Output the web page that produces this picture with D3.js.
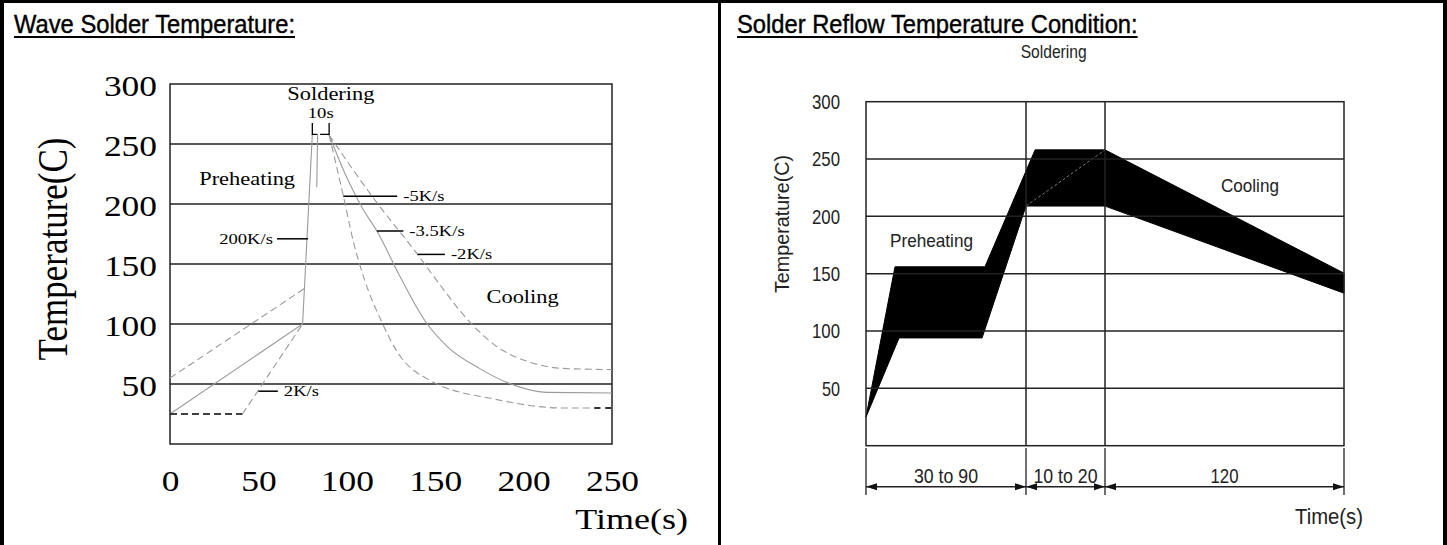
<!DOCTYPE html>
<html>
<head>
<meta charset="utf-8">
<script src="https://cdn.jsdelivr.net/npm/d3@7"></script>
<style>
  body { margin: 0; background: #fff; }
</style>
</head>
<body>
<div id="chart"></div>
<script>
//Panel titles
var titles = ["Wave Solder Temperature:", "Solder Reflow Temperature Condition:"];

//Wave solder chart : time (s) / temperature (C)
var waveTempTicks = [50, 100, 150, 200, 250, 300];
var waveTimeTicks = [0, 50, 100, 150, 200, 250];
var waveRise = [[0, 25], [75, 100], [80.5, 258]];
var waveRiseHigh = [[0, 55], [76.5, 130]];
var waveHoldLow = [[0, 25], [41, 25]];
var waveRiseLow = [[41, 25], [75, 100]];
var waveDip = [[83.5, 258], [83, 214]];
var coolFast = [[90, 257.5], [98, 207], [104, 167], [110, 137], [120, 101], [128, 78], [147, 53], [185, 37], [222, 30], [250, 30]];
var coolMid = [[90, 257.5], [100, 222], [109, 196], [117, 177.5], [131, 137], [145, 101], [157, 81], [175, 63], [191, 51], [213, 43], [250, 42.5]];
var coolSlow = [[90, 257.5], [115, 205], [140, 158], [149, 140], [170, 101], [185, 81], [204, 68], [222, 63], [250, 62]];
var coolTail = [[240, 30], [250, 30]];
var solderWindow = [80.5, 90];
var rateLabels = ["-5K/s", "-3.5K/s", "-2K/s", "200K/s", "2K/s"];
var rateLeaders = [[98, 128.5, 206.5], [117, 132, 177.5], [140, 155.5, 158], [60.5, 78, 171], [50, 61, 44]]; // t start, t end, temp
var wavePhases = ["Soldering", "Preheating", "Cooling"];
var wavePhasePos = [[91, 286.5], [16.5, 216], [179, 117.5]];

//Reflow chart : nominal max phase durations 90 + 20 + 120 s
var reflowTempTicks = [50, 100, 150, 200, 250, 300];
var phaseEdges = [0, 90, 110, 230];
var phaseLabels = ["30 to 90", "10 to 20", "120"];
var reflowUpper = [[0, 25], [16.3, 156], [66.9, 156], [92.3, 258], [110, 258], [230, 150.5]];
var reflowLower = [[0, 25], [18.6, 94], [65.3, 94], [90, 209], [110, 209], [230, 133]];
var reflowInner = [[90, 209], [110, 258]];
var reflowPhases = ["Soldering", "Preheating", "Cooling"];
var reflowPhasePos = [[97, 338], [13.5, 173], [168.2, 221]];

var serif = "'Liberation Serif', 'Times New Roman', serif";
var sans = "'Liberation Sans', Arial, sans-serif";

//stretch a text horizontally by k
function stretch(sel, k) {
  sel.each(function() {
    var w = this.getComputedTextLength();
    d3.select(this).attr("textLength", w * k).attr("lengthAdjust", "spacingAndGlyphs");
  });
}
function fitWidth(sel, w) {
  sel.attr("textLength", w).attr("lengthAdjust", "spacingAndGlyphs");
}

var svg = d3.select("#chart").append("svg")
  .attr("width", 1447).attr("height", 545);

//Table borders
svg.append("line").attr("x1", 2).attr("x2", 2).attr("y1", 0).attr("y2", 545).attr("stroke", "#000").attr("stroke-width", 4);
svg.append("line").attr("x1", 0).attr("x2", 1447).attr("y1", 1.5).attr("y2", 1.5).attr("stroke", "#000").attr("stroke-width", 3);
svg.append("line").attr("x1", 719.5).attr("x2", 719.5).attr("y1", 0).attr("y2", 545).attr("stroke", "#000").attr("stroke-width", 3);
svg.append("line").attr("x1", 1445).attr("x2", 1445).attr("y1", 0).attr("y2", 545).attr("stroke", "#000").attr("stroke-width", 4);

//Titles with underline
var leftTitle = svg.append("text").attr("x", 14).attr("y", 33)
  .attr("font-family", sans).attr("font-size", 25).attr("stroke", "#000").attr("stroke-width", 0.4)
  .text(titles[0]);
var k = 281 / leftTitle.node().getComputedTextLength();
stretch(leftTitle, k);
var rightTitle = svg.append("text").attr("x", 737).attr("y", 33)
  .attr("font-family", sans).attr("font-size", 25).attr("stroke", "#000").attr("stroke-width", 0.4)
  .text(titles[1]);
stretch(rightTitle, k);
[leftTitle, rightTitle].forEach(function(t) {
  var x0 = +t.attr("x"), w = +t.attr("textLength");
  svg.append("line").attr("x1", x0).attr("x2", x0 + w).attr("y1", 37).attr("y2", 37)
    .attr("stroke", "#000").attr("stroke-width", 2);
});

// ================= Wave solder chart =================
var xW = d3.scaleLinear().domain([0, 250]).range([170, 612]);
var yW = d3.scaleLinear().domain([0, 300]).range([444, 84]);
var lineW = d3.line().x(function(d) { return xW(d[0]); }).y(function(d) { return yW(d[1]); });
var curveW = d3.line().curve(d3.curveMonotoneX).x(function(d) { return xW(d[0]); }).y(function(d) { return yW(d[1]); });

var gW = svg.append("g");

//Gridlines
gW.selectAll(".gridW").data(waveTempTicks.filter(function(v) { return v < 300; }))
  .enter().append("line")
  .attr("x1", xW(0)).attr("x2", xW(250))
  .attr("y1", function(d) { return yW(d); }).attr("y2", function(d) { return yW(d); })
  .attr("stroke", "#222").attr("stroke-width", 1.5);
gW.append("rect")
  .attr("x", xW(0)).attr("y", yW(300)).attr("width", xW(250) - xW(0)).attr("height", yW(0) - yW(300))
  .attr("fill", "none").attr("stroke", "#222").attr("stroke-width", 1.5);

//Curves
var gray = "#9a9a9a";
gW.append("path").attr("d", lineW(waveRise)).attr("fill", "none").attr("stroke", gray).attr("stroke-width", 1.1);
gW.append("path").attr("d", lineW(waveRiseHigh)).attr("fill", "none").attr("stroke", gray).attr("stroke-width", 1.1).attr("stroke-dasharray", "7,4");
gW.append("path").attr("d", lineW(waveHoldLow)).attr("fill", "none").attr("stroke", "#000").attr("stroke-width", 1.3).attr("stroke-dasharray", "7,4");
gW.append("path").attr("d", lineW(waveRiseLow)).attr("fill", "none").attr("stroke", gray).attr("stroke-width", 1.1).attr("stroke-dasharray", "7,4");
gW.append("path").attr("d", lineW(waveDip)).attr("fill", "none").attr("stroke", gray).attr("stroke-width", 1.1);
gW.append("path").attr("d", curveW(coolFast)).attr("fill", "none").attr("stroke", gray).attr("stroke-width", 1.1).attr("stroke-dasharray", "7,4");
gW.append("path").attr("d", curveW(coolMid)).attr("fill", "none").attr("stroke", gray).attr("stroke-width", 1.1);
gW.append("path").attr("d", curveW(coolSlow)).attr("fill", "none").attr("stroke", gray).attr("stroke-width", 1.1).attr("stroke-dasharray", "7,4");
gW.append("path").attr("d", lineW(coolTail)).attr("fill", "none").attr("stroke", "#000").attr("stroke-width", 1.3).attr("stroke-dasharray", "6,5");

//10s bracket
var bTop = yW(267.5), bBot = yW(258);
var bl = xW(solderWindow[0]), br = xW(solderWindow[1]);
gW.append("path")
  .attr("d", "M" + bl + "," + bTop + "V" + bBot + "H" + (bl + 5) + "M" + (br - 9) + "," + bBot + "H" + br + "V" + bTop)
  .attr("fill", "none").attr("stroke", "#000").attr("stroke-width", 1.3);
var tenS = gW.append("text").attr("x", (bl + br) / 2).attr("y", yW(271.7))
  .attr("text-anchor", "middle").attr("font-family", serif).attr("font-size", 15.5).text("10s");
stretch(tenS, 1.2);

//Rate leaders and labels
rateLeaders.forEach(function(r, i) {
  gW.append("line").attr("x1", xW(r[0])).attr("x2", xW(r[1]))
    .attr("y1", yW(r[2])).attr("y2", yW(r[2])).attr("stroke", "#000").attr("stroke-width", 1.5);
  var t = gW.append("text")
    .attr("x", i === 3 ? xW(r[0]) - 4 : xW(r[1]) + 6)
    .attr("y", yW(r[2]) + 5)
    .attr("text-anchor", i === 3 ? "end" : "start")
    .attr("font-family", serif).attr("font-size", 15.5).text(rateLabels[i]);
  stretch(t, 1.2);
});

//Phase labels
wavePhases.forEach(function(p, i) {
  var t = gW.append("text").attr("x", xW(wavePhasePos[i][0])).attr("y", yW(wavePhasePos[i][1]))
    .attr("text-anchor", i === 0 ? "middle" : "start")
    .attr("font-family", serif).attr("font-size", 18.7).text(p);
  stretch(t, 1.2);
});

//Axes
var axW = gW.append("g").attr("transform", "translate(" + xW(0) + ",0)")
  .call(d3.axisLeft(yW).tickValues(waveTempTicks).tickSize(0).tickPadding(13));
axW.select(".domain").remove();
axW.selectAll("text").attr("font-family", serif).attr("font-size", 30).attr("fill", "#000").attr("dy", "0.38em");
stretch(axW.selectAll("text"), 1.18);

var axWx = gW.append("g").attr("transform", "translate(0," + yW(0) + ")")
  .call(d3.axisBottom(xW).tickValues(waveTimeTicks).tickSize(0));
axWx.select(".domain").remove();
axWx.selectAll("text").attr("font-family", serif).attr("font-size", 30).attr("fill", "#000").attr("y", 47).attr("dy", 0);
stretch(axWx.selectAll("text"), 1.18);

gW.append("text").attr("transform", "translate(67,249) scale(1.2,1) rotate(-90)")
  .attr("text-anchor", "middle").attr("font-family", serif).attr("font-size", 35).text("Temperature(C)");
var timeW = gW.append("text").attr("x", 688).attr("y", 529).attr("text-anchor", "end")
  .attr("font-family", serif).attr("font-size", 30).text("Time(s)");
stretch(timeW, 1.2);

// ================= Reflow chart =================
var xR = d3.scaleLinear().domain(phaseEdges).range([866, 1026, 1105, 1344]);
var yR = d3.scaleLinear().domain([0, 300]).range([445.7, 101.7]);
var lineR = d3.line().x(function(d) { return xR(d[0]); }).y(function(d) { return yR(d[1]); });

var gR = svg.append("g");

//Profile band
gR.append("path")
  .attr("d", lineR(reflowUpper.concat(reflowLower.slice().reverse())) + "Z")
  .attr("fill", "#000").attr("stroke", "#000").attr("stroke-width", 1);
gR.append("path").attr("d", lineR(reflowInner)).attr("fill", "none")
  .attr("stroke", "#777").attr("stroke-width", 1).attr("stroke-dasharray", "3,2");

//Grid
gR.selectAll(".gridR").data(reflowTempTicks.filter(function(v) { return v < 300; }))
  .enter().append("line")
  .attr("x1", xR(0)).attr("x2", xR(230))
  .attr("y1", function(d) { return yR(d); }).attr("y2", function(d) { return yR(d); })
  .attr("stroke", "#222").attr("stroke-width", 1.5);
gR.selectAll(".vgridR").data(phaseEdges.slice(1, 3))
  .enter().append("line")
  .attr("x1", function(d) { return xR(d); }).attr("x2", function(d) { return xR(d); })
  .attr("y1", yR(300)).attr("y2", yR(0))
  .attr("stroke", "#222").attr("stroke-width", 1.5);
gR.append("rect")
  .attr("x", xR(0)).attr("y", yR(300)).attr("width", xR(230) - xR(0)).attr("height", yR(0) - yR(300))
  .attr("fill", "none").attr("stroke", "#222").attr("stroke-width", 1.5);

//Axis
var axR = gR.append("g").attr("transform", "translate(" + xR(0) + ",0)")
  .call(d3.axisLeft(yR).tickValues(reflowTempTicks).tickSize(0).tickPadding(26));
axR.select(".domain").remove();
axR.selectAll("text").attr("font-family", sans).attr("font-size", 21).attr("fill", "#222").attr("dy", "0.33em")
  .each(function(d) { fitWidth(d3.select(this), d >= 100 ? 28 : 18); });

var yTitleR = gR.append("text").attr("transform", "translate(789,224) rotate(-90)")
  .attr("text-anchor", "middle").attr("font-family", sans).attr("font-size", 20).attr("fill", "#222")
  .text("Temperature(C)");
fitWidth(yTitleR, 138);

//Phase labels
var phaseWidths = [66, 83, 58];
reflowPhases.forEach(function(p, i) {
  var t = gR.append("text").attr("x", xR(reflowPhasePos[i][0])).attr("y", yR(reflowPhasePos[i][1]))
    .attr("text-anchor", i === 0 ? "middle" : "start")
    .attr("font-family", sans).attr("font-size", 19).attr("fill", "#222").text(p);
  fitWidth(t, phaseWidths[i]);
});

//Duration dimension lines
var dimY = 486.7;
gR.selectAll(".dimTick").data(phaseEdges)
  .enter().append("line")
  .attr("x1", function(d) { return xR(d); }).attr("x2", function(d) { return xR(d); })
  .attr("y1", 448).attr("y2", 495).attr("stroke", "#222").attr("stroke-width", 1.3);
gR.append("line").attr("x1", xR(0)).attr("x2", xR(230)).attr("y1", dimY).attr("y2", dimY)
  .attr("stroke", "#222").attr("stroke-width", 1.5);
var labelWidths = [64, 64, 28];
phaseLabels.forEach(function(lab, i) {
  var a = xR(phaseEdges[i]), b = xR(phaseEdges[i + 1]);
  gR.append("path")
    .attr("d", "M" + a + "," + dimY + "l11,-3.5v7Z" + "M" + b + "," + dimY + "l-11,-3.5v7Z")
    .attr("fill", "#111");
  var t = gR.append("text").attr("x", (a + b) / 2).attr("y", 483).attr("text-anchor", "middle")
    .attr("font-family", sans).attr("font-size", 20).attr("fill", "#222").text(lab);
  fitWidth(t, labelWidths[i]);
});

var timeR = gR.append("text").attr("x", 1363).attr("y", 524).attr("text-anchor", "end")
  .attr("font-family", sans).attr("font-size", 22).attr("fill", "#222").text("Time(s)");
fitWidth(timeR, 68);
</script>
</body>
</html>
